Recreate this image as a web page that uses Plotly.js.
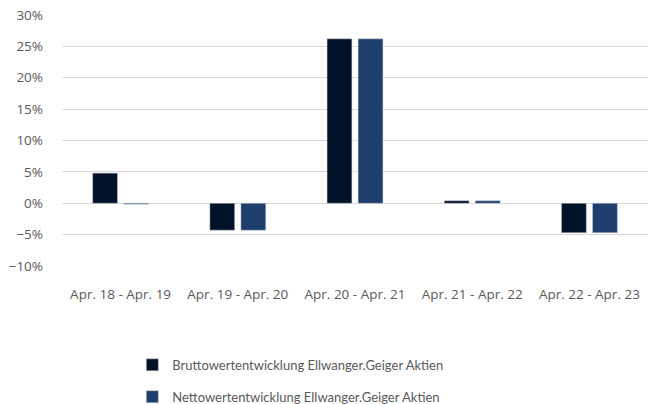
<!DOCTYPE html>
<html>
<head>
<meta charset="utf-8">
<script src="https://cdn.plot.ly/plotly-3.0.1.min.js"></script>
<style>html,body{margin:0;padding:0;background:#fff}#chart{width:648px;height:404px}</style>
</head>
<body>
<div id="chart"></div>
<script>
const categories = ["Apr. 18 - Apr. 19", "Apr. 19 - Apr. 20", "Apr. 20 - Apr. 21", "Apr. 21 - Apr. 22", "Apr. 22 - Apr. 23"];
const brutto = [0.048, -0.043, 0.262, 0.004, -0.047];
const netto = [-0.0015, -0.043, 0.262, 0.004, -0.047];
const seriesNames = ["Bruttowertentwicklung Ellwanger.Geiger Aktien", "Nettowertentwicklung Ellwanger.Geiger Aktien"];
const yTicks = [-0.1, -0.05, 0, 0.05, 0.1, 0.15, 0.2, 0.25, 0.3];

const data = [
  {type: 'bar', x: categories, y: brutto, name: seriesNames[0], legendgroup: 'a', marker: {color: '#021229', line: {color: '#c9ccd2', width: 0.5}}, hoverinfo: 'y'},
  {type: 'bar', x: categories, y: netto, name: seriesNames[1], legendgroup: 'b', marker: {color: '#1e3e6e', line: {color: '#c9ccd2', width: 0.5}}, hoverinfo: 'y'}
];
const layout = {
  width: 648, height: 404,
  margin: {l: 62, r: 0, t: 15, b: 138},
  paper_bgcolor: '#fff', plot_bgcolor: '#fff',
  font: {family: 'Lato, sans-serif', size: 13, color: '#595959'},
  barmode: 'group', bargap: 0.47, bargroupgap: 0.2,
  showlegend: true,
  legend: {orientation: 'v', x: 0.12, y: 0.134, yref: 'container', xanchor: 'left', yanchor: 'top', font: {size: 13, color: '#595959'}, traceorder: 'grouped', tracegroupgap: 12, itemwidth: 30},
  xaxis: {type: 'category', automargin: false, showgrid: false, zeroline: false, showline: false, ticks: '', tickfont: {family: 'Open Sans, sans-serif', size: 13.5}, ticklabelstandoff: 18},
  yaxis: {range: [-0.1, 0.3], automargin: false, tickvals: yTicks, tickformat: '.0%', showgrid: true, gridcolor: '#d9d9d9', gridwidth: 1, zeroline: true, zerolinecolor: '#d9d9d9', zerolinewidth: 1, showline: false, ticks: '', tickfont: {family: 'Open Sans, sans-serif', size: 13.5}, ticklabelstandoff: 18}
};
Plotly.newPlot('chart', data, layout, {displayModeBar: false, staticPlot: true});
</script>
</body>
</html>
